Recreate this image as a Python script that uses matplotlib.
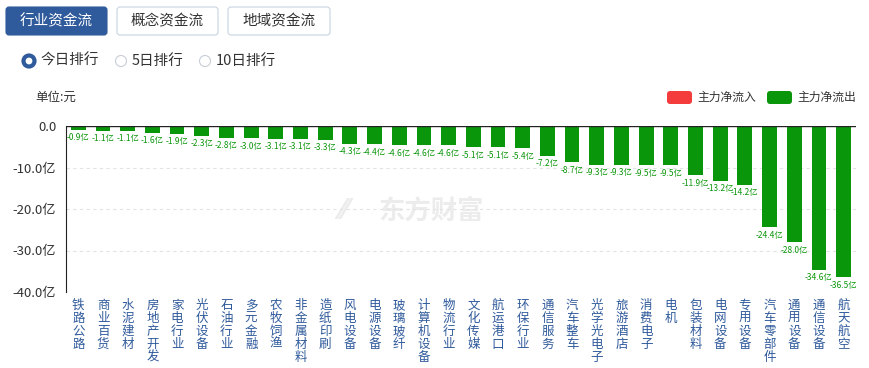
import matplotlib.pyplot as plt
from matplotlib.patches import FancyBboxPatch, Circle

plt.rcParams['font.family'] = ['Noto Sans CJK SC', 'DejaVu Sans']

# 行业资金流 - 今日排行
sectors = ["铁路公路", "商业百货", "水泥建材", "房地产开发", "家电行业", "光伏设备",
           "石油行业", "多元金融", "农牧饲渔", "非金属材料", "造纸印刷", "风电设备",
           "电源设备", "玻璃玻纤", "计算机设备", "物流行业", "文化传媒", "航运港口",
           "环保行业", "通信服务", "汽车整车", "光学光电子", "旅游酒店", "消费电子",
           "电机", "包装材料", "电网设备", "专用设备", "汽车零部件", "通用设备",
           "通信设备", "航天航空"]
net_flow = [-0.9, -1.1, -1.1, -1.6, -1.9, -2.3, -2.8, -3.0, -3.1, -3.1, -3.3, -4.3,
            -4.4, -4.6, -4.6, -4.6, -5.1, -5.1, -5.4, -7.2, -8.7, -9.3, -9.3, -9.5,
            -9.5, -11.9, -13.2, -14.2, -24.4, -28.0, -34.6, -36.5]
yticks = [0, -10, -20, -30, -40]
ytick_labels = ["0.0", "-10.0亿", "-20.0亿", "-30.0亿", "-40.0亿"]

green = "#0a960a"
red = "#f43c3c"
blue = "#2f5a9b"

W, H = 870, 368
fig = plt.figure(figsize=(W / 100, H / 100), dpi=100)

# фон в пиксельных координатах (для кнопок, легенды и т.п.)
bg = fig.add_axes([0, 0, 1, 1], zorder=0)
bg.set_xlim(0, W)
bg.set_ylim(H, 0)
bg.axis("off")

# ------- кнопки сверху ---------
buttons = [("行业资金流", 6, 107, True), ("概念资金流", 117, 218, False), ("地域资金流", 228, 330, False)]
for label, x0, x1, active in buttons:
    bg.add_patch(FancyBboxPatch((x0, 7), x1 - x0, 28,
                                boxstyle="round,pad=0,rounding_size=3",
                                facecolor=blue if active else "white",
                                edgecolor=blue if active else "#c9d3e0", lw=0.8))
    bg.text((x0 + x1) / 2, 21, label, ha="center", va="center",
            fontsize=10.5, color="white" if active else "#333333")

# ------- радио-кнопки ---------
radios = [("今日排行", 29, True), ("5日排行", 121, False), ("10日排行", 205, False)]
for label, cx, on in radios:
    bg.add_patch(Circle((cx, 61), 5.5, facecolor="white",
                        edgecolor=blue if on else "#c8ced8", lw=3 if on else 0.8))
    bg.text(cx + 11, 61, label, ha="left", va="center", fontsize=10.5, color="#333333")

# ------- подписи ---------
bg.text(35, 97, "单位:元", ha="left", va="center", fontsize=9, color="#333333")
for px, col, lab in [(667, red, "主力净流入"), (767, green, "主力净流出")]:
    bg.add_patch(FancyBboxPatch((px, 91), 25, 13, boxstyle="round,pad=0,rounding_size=3",
                                facecolor=col, lw=0))
    bg.text(px + 30, 97.5, lab, ha="left", va="center", fontsize=8.5, color="#333333")

# водяной знак
bg.text(340, 211, "⁄⁄", ha="left", va="center", fontsize=20,
        fontweight="bold", color="#ececec", family="DejaVu Sans")
bg.text(378, 211, "东方财富", ha="left", va="center", fontsize=19,
        fontweight="bold", color="#ececec")

# ------- график ---------
ax = fig.add_axes([66 / W, 1 - 292 / H, (856 - 66) / W, (292 - 126) / H], zorder=1)
ax.patch.set_alpha(0)
x = list(range(len(sectors)))
ax.bar(x, net_flow, width=0.6, color=green, zorder=3)
for xi, v in zip(x, net_flow):
    ax.annotate(f"{v:.1f}亿", (xi, v), xytext=(0, -2.5), textcoords="offset points",
                ha="center", va="top", fontsize=6, color=green)

ax.set_xlim(-0.5, len(sectors) - 0.5)
ax.set_ylim(-40, 0)
ax.set_yticks(yticks)
ax.set_yticklabels(ytick_labels)
ax.set_xticks(x)
ax.set_xticklabels(["\n".join(s) for s in sectors], fontsize=9, color=blue,
                   va="top", linespacing=1.0)
ax.tick_params(axis="x", length=0, pad=5)
ax.tick_params(axis="y", length=0, pad=7, labelsize=9.5, labelcolor="#333333")
for yv in yticks[1:]:
    ax.axhline(yv, color="#e3e3e3", lw=0.8, ls=(0, (3, 3)), zorder=1)
ax.axhline(0, color="#222222", lw=1, zorder=4)
for s in ["top", "right", "bottom"]:
    ax.spines[s].set_visible(False)
ax.spines["left"].set_color("#222222")

fig.savefig("out.png", dpi=100)
